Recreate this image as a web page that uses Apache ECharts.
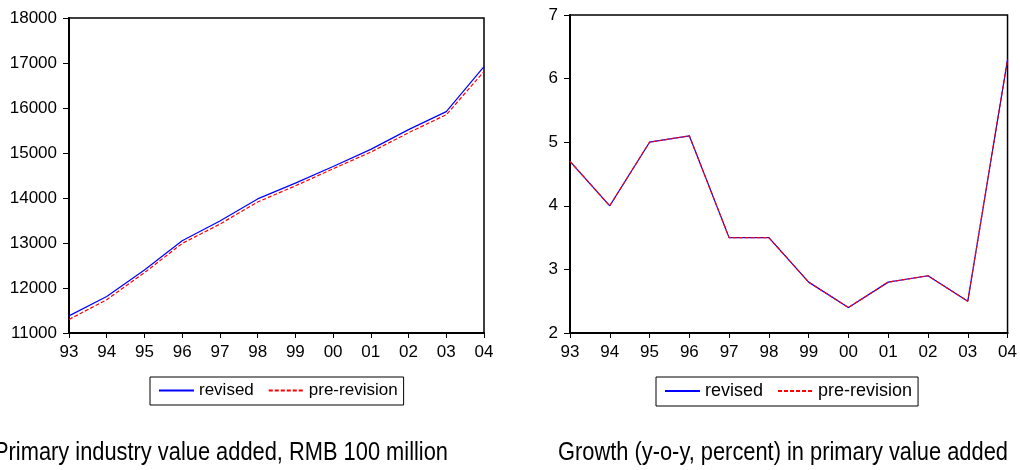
<!DOCTYPE html>
<html>
<head>
<meta charset="utf-8">
<script src="https://cdn.jsdelivr.net/npm/echarts@6/dist/echarts.min.js"></script>
<style>
    html, body { margin: 0; padding: 0; background: #fff; }
    #chart_div { width: 1020px; height: 470px; }
</style>
</head>
<body>
<div id="chart_div"></div>
<script>
// years 1993 - 2004
var years = ['93', '94', '95', '96', '97', '98', '99', '00', '01', '02', '03', '04'];

// primary industry value added, RMB 100 million
var levelRevised = [11380, 11810, 12400, 13050, 13490, 13980, 14330, 14700, 15080, 15520, 15920, 16920];
var levelPre = [11300, 11740, 12340, 12990, 13420, 13910, 14270, 14650, 15020, 15450, 15850, 16810];

// growth y-o-y, percent
var growthRevised = [4.7, 4.0, 5.0, 5.1, 3.5, 3.5, 2.8, 2.4, 2.8, 2.9, 2.5, 6.3];
var growthPre = [4.7, 4.0, 5.0, 5.1, 3.5, 3.5, 2.8, 2.4, 2.8, 2.9, 2.5, 6.3];

var seriesNames = ['revised', 'pre-revision'];
var titles = ['Primary industry value added, RMB 100 million', 'Growth (y-o-y, percent) in primary value added'];

var baseFont = 'Liberation Sans, Arial, sans-serif';

function xAxisFor(idx) {
    return {
        type: 'category',
        gridIndex: idx,
        data: years,
        boundaryGap: false,
        axisLine: { lineStyle: { color: '#000', width: 2 } },
        axisTick: { show: true, length: 5, inside: false, alignWithLabel: true, lineStyle: { color: '#000' } },
        axisLabel: { color: '#000', fontSize: 17, fontFamily: baseFont, margin: 11, interval: 0 },
        splitLine: { show: false }
    };
}

function yAxisFor(idx, min, max, step) {
    return {
        type: 'value',
        gridIndex: idx,
        min: min,
        max: max,
        interval: step,
        axisLine: { show: true, lineStyle: { color: '#000', width: 2 } },
        axisTick: { show: true, length: 6, lineStyle: { color: '#000' } },
        axisLabel: {
            color: '#000', fontSize: 17, fontFamily: baseFont, margin: 12,
            formatter: function (v) { return String(v); }
        },
        splitLine: { show: false }
    };
}

function lineSeries(name, idx, data, color, dashed) {
    return {
        name: name,
        type: 'line',
        xAxisIndex: idx,
        yAxisIndex: idx,
        data: data,
        symbol: 'none',
        animation: false,
        lineStyle: { color: color, width: 1.2, type: dashed ? [4, 2] : 'solid' },
        itemStyle: { color: color }
    };
}

function legendFor(idx, left, top, size) {
    return {
        id: 'legend' + idx,
        data: seriesNames,
        left: left,
        top: top,
        orient: 'horizontal',
        itemWidth: 35,
        itemHeight: 10,
        itemGap: 14,
        padding: [5, 6, 6, 8],
        borderColor: '#000',
        borderWidth: 1,
        borderRadius: 0,
        itemStyle: { opacity: 0 },
        textStyle: { color: '#000', fontSize: size, fontFamily: baseFont },
        selectedMode: false
    };
}

function titleText(text, x) {
    return {
        type: 'text',
        x: x,
        y: 453,
        scaleX: 0.84,
        originX: 0,
        style: {
            text: text,
            fontSize: 26,
            fontFamily: baseFont,
            fill: '#000',
            align: 'center',
            verticalAlign: 'middle'
        }
    };
}

var myChart = echarts.init(document.getElementById('chart_div'), null, { renderer: 'canvas' });
myChart.setOption({
    animation: false,
    backgroundColor: '#fff',
    graphic: [titleText(titles[0], 221), titleText(titles[1], 783)],
    legend: [legendFor(0, 150, 377, 17), legendFor(1, 656, 377, 18)],
    grid: [
        { left: 69, top: 18, width: 415, height: 315, show: true, borderColor: '#000', borderWidth: 1.5, backgroundColor: 'transparent' },
        { left: 570, top: 15, width: 439, height: 318, show: true, borderColor: '#000', borderWidth: 1.5, backgroundColor: 'transparent' }
    ],
    xAxis: [xAxisFor(0), xAxisFor(1)],
    yAxis: [yAxisFor(0, 11000, 18000, 1000), yAxisFor(1, 2, 7, 1)],
    series: [
        lineSeries(seriesNames[0], 0, levelRevised, '#0000ff', false),
        lineSeries(seriesNames[1], 0, levelPre, '#ff0000', true),
        lineSeries(seriesNames[0], 1, growthRevised, '#0000ff', false),
        lineSeries(seriesNames[1], 1, growthPre, '#ff0000', true)
    ]
});
</script>
</body>
</html>
